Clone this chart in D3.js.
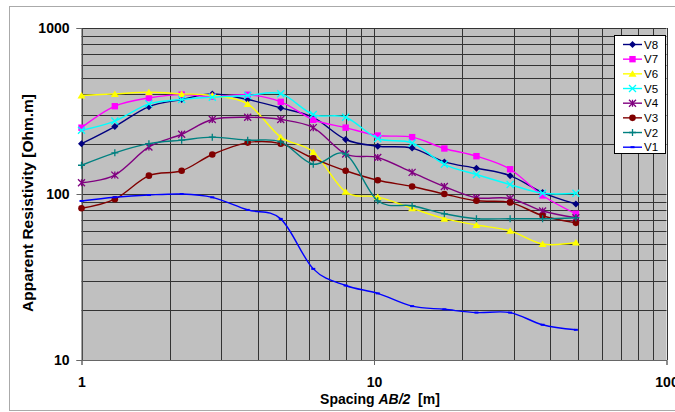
<!DOCTYPE html>
<html>
<head>
<meta charset="utf-8">
<script src="https://cdn.jsdelivr.net/npm/d3@7"></script>
<style>
  body { margin: 0; background: #fff; }
  text { font-family: "Liberation Sans", Arial, sans-serif; }
</style>
</head>
<body>
<svg id="chart" width="675" height="412"></svg>
<script>
const width = 675;
const height = 412;

// AB/2 spacing (m)
const spacing = [1, 1.3, 1.7, 2.2, 2.8, 3.7, 4.8, 6.2, 8, 10.3, 13.5, 17.4, 22.4, 29.2, 37.7, 49];

// apparent resistivity (Ohm.m) per sounding
const v8 = [201, 255, 336, 371, 401, 371, 330, 289, 213, 194, 189, 156, 143, 129, 102, 87];
const v7 = [251, 338, 379, 397, 386, 396, 359, 280, 251, 225, 220, 188, 169, 141, 98, 76];
const v6 = [392, 401, 410, 401, 392, 349, 220, 179, 103, 96, 82, 71, 65, 60, 50, 51];
const v5 = [242, 275, 349, 371, 383, 392, 402, 301, 290, 216, 203, 151, 131, 114, 101, 101];
const v4 = [117, 130, 192, 229, 281, 290, 281, 251, 174, 166, 135, 111, 95, 94, 79, 72];
const v3 = [82, 93, 129, 138, 173, 204, 201, 164, 138, 121, 111, 100, 91, 89, 74, 67];
const v2 = [149, 177, 201, 211, 220, 211, 206, 151, 174, 91, 85, 76, 71, 71, 71, 72];
const v1 = [90.8, 95.5, 98.6, 100, 95.5, 80.2, 70.8, 35.4, 28.1, 25.2, 21.1, 20.2, 19.3, 19.3, 16.3, 15.2];

const seriesNames = ["V8", "V7", "V6", "V5", "V4", "V3", "V2", "V1"];
const seriesValues = [v8, v7, v6, v5, v4, v3, v2, v1];
const seriesColors = ["#000080", "#ff00ff", "#ffff00", "#00ffff", "#800080", "#800000", "#008080", "#0000ff"];
const seriesMarkers = ["diamond", "square", "triangle", "times", "star", "circle", "plus", "dash"];

const xTicks = [1, 10, 100];
const yTicks = [10, 100, 1000];

const svg = d3.select("#chart");

const x = d3.scaleLog().domain([1, 100]).range([81.5, 666.5]);
const y = d3.scaleLog().domain([10, 1000]).range([360, 28]);

// outer chart frame
svg.append("rect")
    .attr("x", 9.5).attr("y", 6.5)
    .attr("width", 700).attr("height", 404)
    .attr("fill", "#fff")
    .attr("stroke", "#aaa");

// plot area
svg.append("rect")
    .attr("x", x(1)).attr("y", y(1000))
    .attr("width", x(100) - x(1)).attr("height", y(10) - y(1000))
    .attr("fill", "#c0c0c0");

// gridlines (major + minor)
svg.append("g").selectAll("line")
    .data(y.ticks())
    .enter().append("line")
    .attr("x1", x(1)).attr("x2", x(100))
    .attr("y1", d => Math.round(y(d)) + 0.5).attr("y2", d => Math.round(y(d)) + 0.5)
    .attr("stroke", "#333").attr("stroke-width", 1);

svg.append("g").selectAll("line")
    .data(x.ticks())
    .enter().append("line")
    .attr("x1", d => Math.round(x(d)) + 0.5).attr("x2", d => Math.round(x(d)) + 0.5)
    .attr("y1", y(1000)).attr("y2", y(10))
    .attr("stroke", "#333").attr("stroke-width", 1);

// axes
const yAxis = svg.append("g")
    .attr("transform", `translate(${x(1)},0)`)
    .call(d3.axisLeft(y).tickValues(yTicks).tickFormat(d3.format("d")).tickSize(5).tickPadding(7));

const xAxis = svg.append("g")
    .attr("transform", `translate(0,${y(10)})`)
    .call(d3.axisBottom(x).tickValues(xTicks).tickFormat(d3.format("d")).tickSize(5).tickPadding(12));

[yAxis, xAxis].forEach(a => {
    a.select(".domain").attr("stroke", "#666");
    a.selectAll(".tick line").attr("stroke", "#666");
    a.selectAll("text")
        .attr("font-size", "14px")
        .attr("font-weight", "bold")
        .attr("fill", "#000")
        .style("font-family", "'Liberation Sans', Arial, sans-serif");
});

// axis titles
svg.append("text")
    .attr("transform", "translate(33,203) rotate(-90)")
    .attr("text-anchor", "middle")
    .attr("font-size", "15.5px")
    .attr("font-weight", "bold")
    .text("Apparent Resistivity [Ohm.m]");

const xTitle = svg.append("text")
    .attr("x", 380).attr("y", 404)
    .attr("text-anchor", "middle")
    .attr("font-size", "14px")
    .attr("font-weight", "bold");
xTitle.append("tspan").text("Spacing ");
xTitle.append("tspan").attr("font-style", "italic").text("AB/2");
xTitle.append("tspan").text("\u00a0 [m]");

// marker drawing
function drawMarker(g, type, color) {
    const s = 3.5;
    if (type === "diamond") {
        g.append("path").attr("d", `M0,${-s}L${s},0L0,${s}L${-s},0Z`).attr("fill", color);
    } else if (type === "square") {
        g.append("rect").attr("x", -3.2).attr("y", -3.2).attr("width", 6.4).attr("height", 6.4).attr("fill", color);
    } else if (type === "triangle") {
        g.append("path").attr("d", `M0,${-s}L${s + 0.5},${s - 0.5}L${-s - 0.5},${s - 0.5}Z`).attr("fill", color);
    } else if (type === "circle") {
        g.append("circle").attr("r", 3.3).attr("fill", color);
    } else if (type === "times" || type === "star" || type === "plus") {
        let d = "";
        if (type !== "plus") d += `M${-s},${-s}L${s},${s}M${-s},${s}L${s},${-s}`;
        if (type === "star") d += `M0,${-s}L0,${s}`;
        if (type === "plus") d += `M${-s},0L${s},0M0,${-s}L0,${s}`;
        g.append("path").attr("d", d).attr("fill", "none").attr("stroke", color).attr("stroke-width", 1.3);
    } else if (type === "dash") {
        g.append("rect").attr("x", -2).attr("y", -1).attr("width", 4).attr("height", 2).attr("fill", color);
    }
}

const line = d3.line()
    .x(d => x(d[0]))
    .y(d => y(d[1]))
    .curve(d3.curveCardinal.tension(0));

const series = seriesNames.map((name, i) => ({
    name: name,
    color: seriesColors[i],
    marker: seriesMarkers[i],
    points: spacing.map((s, j) => [s, seriesValues[i][j]])
}));

// render series (V8 first, V1 on top)
series.forEach(s => {
    const g = svg.append("g");
    g.append("path")
        .attr("d", line(s.points))
        .attr("fill", "none")
        .attr("stroke", s.color)
        .attr("stroke-width", 1.4);
    s.points.forEach(p => {
        const m = g.append("g").attr("transform", `translate(${x(p[0])},${y(p[1])})`);
        drawMarker(m, s.marker, s.color);
    });
});

// legend
const legend = svg.append("g");
legend.append("rect")
    .attr("x", 614.5).attr("y", 35.5)
    .attr("width", 51).attr("height", 118)
    .attr("fill", "#fff")
    .attr("stroke", "#000");

series.forEach((s, i) => {
    const ly = 44.5 + i * 14.67;
    const item = legend.append("g").attr("transform", `translate(0,${ly})`);
    item.append("line")
        .attr("x1", 623).attr("x2", 642)
        .attr("stroke", s.color).attr("stroke-width", 1.4);
    drawMarker(item.append("g").attr("transform", "translate(632.5,0)"), s.marker, s.color);
    item.append("text")
        .attr("x", 644).attr("dy", "0.36em")
        .attr("font-size", "11.5px")
        .text(s.name);
});
</script>
</body>
</html>
